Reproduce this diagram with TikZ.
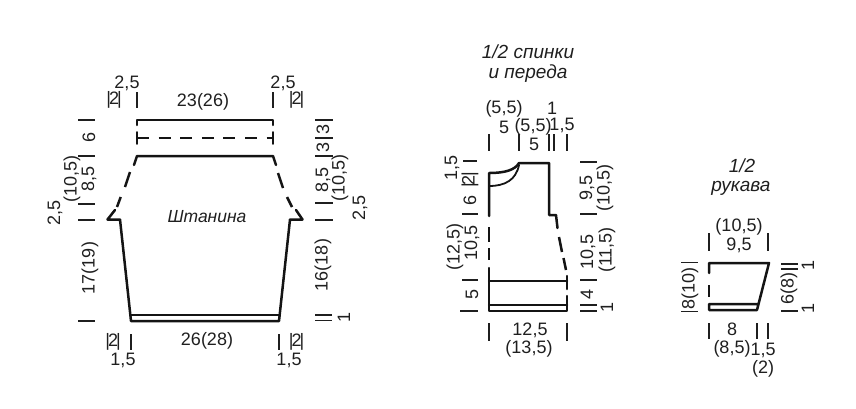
\documentclass[tikz,border=0pt]{standalone}
\usepackage{fontspec}
\setmainfont{Liberation Sans}
\newcommand\bb[1]{|\kern-2pt #1\kern-2pt|}
\definecolor{ink}{gray}{0.12}
\tikzset{
 x=1pt,y=-1pt,
 lab/.style={inner sep=0pt,text=ink,font=\fontsize{18}{18}\selectfont},
 rlab/.style={lab,rotate=90},
 ttl/.style={lab,font=\fontsize{17.5}{18}\selectfont\itshape},
 bigttl/.style={lab,font=\fontsize{19}{19}\selectfont\itshape},
 tick/.style={draw=ink,line width=1.3pt},
 shp/.style={draw=black!92,line width=2.5pt,line cap=round,line join=round},
 dsh/.style={shp,line cap=butt}
}
\begin{document}
\begin{tikzpicture}
\useasboundingbox (0,0) rectangle (856,408);
% ---------- Trouser leg
\draw[shp] (137,125) -- (137,120) -- (273,120) -- (273,125);
\draw[shp,line cap=butt,dash pattern=on 12pt off 9.6pt] (137,138) -- (273,138);
\draw[shp,line width=1.8pt] (137,132) -- (137,144) (273,132) -- (273,144);
\draw[shp] (134,165) -- (137,156) -- (273,156) -- (276,165);
\draw[dsh] (130,172) -- (125,187) (120.7,197) -- (117,207);
\draw[dsh] (278,173) -- (283,188) (287,197) -- (292,207);
\draw[shp] (115,210) -- (107.5,219.5) -- (120,219.5) -- (131,321) -- (279,321) -- (290,219.5) -- (302.5,219.5) -- (296,210);
\draw[shp] (131,315) -- (279,315);
\node[lab] (a1) at (127,83) {2,5};
\node[lab] (a2) at (283,83) {2,5};
\node[lab] (a3) at (203,102) {23(26)};
\node[lab] (a4) at (114,100) {\bb{2}};
\node[lab] (a5) at (296.5,100) {\bb{2}};
\draw[tick] (137,92) -- (137,108) (273,92) -- (273,108);
\draw[tick] (78,120) -- (95,120) (78,156) -- (95,156) (78,204) -- (95,204) (78,220) -- (95,220) (78,321) -- (95,321);
\node[rlab] (a6) at (89,137) {6};
\node[rlab] (a7) at (89,179) {8,5};
\node[rlab] (a8) at (72,179) {(10,5)};
\node[rlab] (a9) at (55,213) {2,5};
\node[rlab] (a10) at (90,268) {17(19)};
\node[lab] (a11) at (113,342) {\bb{2}};
\node[lab] (a12) at (123,360) {1,5};
\node[lab] (a13) at (207,341) {26(28)};
\node[lab] (a14) at (296.5,342) {\bb{2}};
\node[lab] (a15) at (289,360) {1,5};
\draw[tick] (131,334) -- (131,350) (279,334) -- (279,350);
\draw[tick] (315,120) -- (333,120) (315,138) -- (333,138) (315,156) -- (333,156) (315,203) -- (333,203) (315,220) -- (333,220) (315,315) -- (332,315) (315,320.5) -- (332,320.5);
\node[rlab] (a16) at (323,129) {3};
\node[rlab] (a17) at (323,147) {3};
\node[rlab] (a18) at (323,180) {8,5};
\node[rlab] (a19) at (340,178) {(10,5)};
\node[rlab] (a20) at (360,208) {2,5};
\node[rlab] (a21) at (323,265) {16(18)};
\node[rlab] (a22) at (344,317) {1};
\node[ttl] (a23) at (207,217) {Штанина};
% ---------- Half back and front
\node[bigttl] (b1) at (528,52) {1/2 спинки};
\node[bigttl] (b2) at (528,74) {и переда};
\node[lab] (b3) at (504,109) {(5,5)};
\node[lab] (b4) at (504,127) {5};
\node[lab] (b5) at (533,127) {(5,5)};
\node[lab] (b6) at (534,144) {5};
\node[lab] (b7) at (552,108) {1};
\node[lab] (b8) at (562,125) {1,5};
\draw[tick] (489,134) -- (489,151) (519,134) -- (519,151) (549,134) -- (549,151) (554,134) -- (554,151) (567,134) -- (567,151);
\draw[shp] (489,216) -- (489,173) .. controls (505,173) and (515,170) .. (519,163) -- (549,163) -- (549,215) -- (556,215) -- (557.5,228);
\draw[shp,line width=1.8pt] (489,186) .. controls (505,186) and (516,180) .. (519,165);
\draw[dsh] (489,227) -- (489,242) (489,248) -- (489,260);
\draw[dsh] (559,237) -- (562,252) (563.5,258) -- (566,270);
\draw[shp] (489,268) -- (489,311) -- (567,311) -- (567,296);
\draw[shp] (489,281) -- (567,281) (489,305) -- (567,305) (567,276) -- (567,289);
\draw[tick] (463,161) -- (477,161) (462,214) -- (478,214) (462,280) -- (478,280) (460,311) -- (478,311);
\node[rlab] (b9) at (452,168) {1,5};
\node[rlab] (b10) at (470,180) {\bb{2}};
\node[rlab] (b11) at (470,200) {6};
\node[rlab] (b12) at (472,243) {10,5};
\node[rlab] (b13) at (455,247) {(12,5)};
\node[rlab] (b14) at (472,294) {5};
\draw[tick] (580,162) -- (597,162) (580,214) -- (597,214) (580,280) -- (597,280) (580,305) -- (597,305) (580,311) -- (597,311);
\node[rlab] (b15) at (587,188) {9,5};
\node[rlab] (b16) at (605,188) {(10,5)};
\node[rlab] (b17) at (588,252) {10,5};
\node[rlab] (b18) at (607,250) {(11,5)};
\node[rlab] (b19) at (587,294) {4};
\node[rlab] (b20) at (607,307) {1};
\draw[tick] (489,323) -- (489,341) (567,323) -- (567,341);
\node[lab] (b21) at (530,330) {12,5};
\node[lab] (b22) at (529,349) {(13,5)};
% ---------- Half sleeve
\node[bigttl] (c1) at (742,166) {1/2};
\node[bigttl] (c2) at (741,188) {рукава};
\node[lab] (c3) at (739,227) {(10,5)};
\node[lab] (c4) at (739,245) {9,5};
\draw[tick] (709,233) -- (709,251) (768,233) -- (768,251);
\draw[shp] (709,273) -- (709,263) -- (769,263) -- (757,310) -- (709,310) -- (709,304) -- (757,304);
\draw[dsh] (709,285) -- (709,297);
\draw[tick] (681,262.5) -- (698,262.5) (681,311.5) -- (698,311.5);
\node[rlab] (c5) at (690,288) {8(10)};
\node[rlab] (c6) at (789,288) {6(8)};
\draw[tick] (781,264) -- (798,264) (781,269) -- (798,269) (781,311) -- (798,311);
\node[rlab] (c7) at (808,265) {1};
\node[rlab] (c8) at (808,308) {1};
\draw[tick] (709,323) -- (709,339) (757,323) -- (757,339) (768,323) -- (768,339);
\node[lab] (c9) at (732,329) {8};
\node[lab] (c10) at (732,349) {(8,5)};
\node[lab] (c11) at (763,350) {1,5};
\node[lab] (c12) at (763,369) {(2)};
\end{tikzpicture}
\end{document}
